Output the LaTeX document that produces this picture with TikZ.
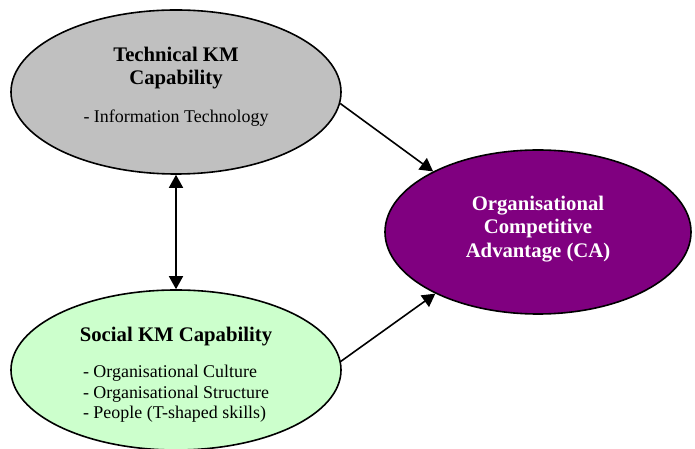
\documentclass[tikz,border=0pt]{standalone}
\usepackage{fontspec}
\setmainfont{Liberation Serif}
\usepackage{tikz}
\usetikzlibrary{shapes.geometric,arrows.meta}

\definecolor{techgrey}{HTML}{C0C0C0}
\definecolor{socialgreen}{HTML}{CCFFCC}
\definecolor{capurple}{HTML}{800080}

\begin{document}
\begin{tikzpicture}[x=0.5bp,y=-0.5bp,
	blob/.style={ellipse, draw, line width=0.8bp, inner sep=0pt},
	heading/.style={align=center, font=\fontsize{10.4}{11.6}\selectfont\bfseries},
	points/.style={align=left, font=\fontsize{9}{10.25}\selectfont},
	link/.style={line width=0.8bp, -{Triangle[length=6.5bp,width=7bp]}}]
\useasboundingbox (0,0) rectangle (695,449);
\node [blob, fill=techgrey, minimum width=165bp, minimum height=82bp] (tech) at (176,92) {};
\node [heading] (techhead) at (176,68) {Technical KM\\Capability};
\node [points] (techlist) at (176,118) {- Information Technology};

\node [blob, fill=socialgreen, minimum width=165bp, minimum height=80bp] (social) at (176,370) {};
\node [heading] (socialhead) at (176,337) {Social KM Capability};
\node [points] (sociallist) at (176,394) {- Organisational Culture\\- Organisational Structure\\- People (T-shaped skills)};

\node [blob, fill=capurple, minimum width=153bp, minimum height=82bp] (ca) at (538,232) {};
\node [heading, text=white] (cahead) at (538,229) {Organisational\\Competitive\\Advantage (CA)};

\draw [link] (tech.-4) -- (ca.150);
\draw [link] (social.3) -- (ca.211);
\draw [link, {Triangle[length=6.5bp,width=7bp]}-{Triangle[length=6.5bp,width=7bp]}] (tech.south) -- (social.north);
\end{tikzpicture}
\end{document}
